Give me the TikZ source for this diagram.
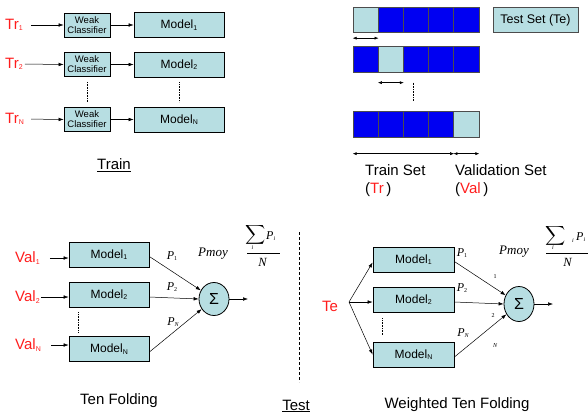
\documentclass[tikz,border=0pt]{standalone}
\usepackage{fontspec}
\setmainfont{Liberation Sans}
\newfontfamily\seriffont{Liberation Serif}
\usetikzlibrary{arrows.meta,shapes.geometric}
\definecolor{boxfill}{RGB}{183,222,226}
\definecolor{cellblue}{RGB}{0,0,242}
\definecolor{labelred}{RGB}{255,28,28}
% small lowered index used in labels
\newcommand\lowsub[1]{\raisebox{-1.3pt}{\fontsize{7}{7}\selectfont #1}}
\newcommand\tinysub[1]{\raisebox{-1.6pt}{\fontsize{6}{6}\selectfont #1}}
\newcommand\plab[1]{{\seriffont\itshape P}\tinysub{\seriffont #1}}
\newcommand\bigsum{\scalebox{1.4}[1.35]{$\displaystyle\sum$}}
\begin{document}
\begin{tikzpicture}[x=1pt,y=-1pt,
  box/.style={draw=black,fill=boxfill,line width=0.8pt,inner sep=0pt},
  weakbox/.style={box,minimum width=46pt,minimum height=24pt,
    font=\fontsize{9.5}{10}\selectfont,align=center},
  modelbox/.style={box,minimum width=90pt,minimum height=25pt,
    font=\fontsize{12}{14}\selectfont},
  smallmodel/.style={box,minimum width=80pt,minimum height=25pt,
    font=\fontsize{12}{14}\selectfont},
  cell/.style={draw=black!70,line width=0.8pt,minimum width=25.2pt,
    minimum height=25.5pt,inner sep=0pt,fill=cellblue},
  lightcell/.style={cell,fill=boxfill},
  sumnode/.style={ellipse,draw=black,fill=boxfill,line width=0.8pt,
    minimum width=30pt,minimum height=33pt,inner sep=0pt,
    font=\fontsize{16}{16}\selectfont},
  redlabel/.style={text=labelred,font=\fontsize{15}{17}\selectfont,inner sep=0pt},
  biglabel/.style={font=\fontsize{15}{17}\selectfont,inner sep=0pt},
  plabel/.style={font=\fontsize{12}{12}\selectfont,inner sep=0pt},
  mathit/.style={font=\fontsize{13}{13}\selectfont\seriffont\itshape,inner sep=0pt},
  sumsign/.style={inner sep=0pt},
  tinyidx/.style={font=\fontsize{6}{6}\selectfont\seriffont,inner sep=0pt},
  arr/.style={-{Latex[length=5pt,width=3.6pt]},line width=0.5pt},
  dimarr/.style={{Latex[length=4pt,width=3pt]}-{Latex[length=4pt,width=3pt]},line width=0.5pt},
  vdots/.style={densely dotted,line width=0.6pt},
]
\useasboundingbox (0,0) rectangle (588,418);
\clip (0,0) rectangle (588,418);

% ---------- training ----------
\node[redlabel,anchor=west] (tr1) at (5,25) {Tr\lowsub{1}};
\node[redlabel,anchor=west] (tr2) at (5,64) {Tr\lowsub{2}};
\node[redlabel,anchor=west] (trn) at (5,119) {Tr\lowsub{N}};
\node[weakbox] (wc1) at (87,25) {Weak\\Classifier};
\node[weakbox] (wc2) at (87,64.5) {Weak\\Classifier};
\node[weakbox] (wcn) at (87,119.5) {Weak\\Classifier};
\node[modelbox] (tm1) at (179,25) {Model\lowsub{1}};
\node[modelbox] (tm2) at (179,64.5) {Model\lowsub{2}};
\node[modelbox] (tmn) at (179,119.5) {Model\lowsub{N}};
\draw[arr,shorten <=8pt] (tr1.east) -- (wc1.west);
\draw[arr,shorten <=2pt] (tr2.east) -- (wc2.west);
\draw[arr,shorten <=7pt] (trn.east) -- (wcn.west);
\draw[arr] (wc1) -- (tm1);
\draw[arr] (wc2) -- (tm2);
\draw[arr] (wcn) -- (tmn);
\draw[vdots] ([yshift=-5pt]wc2.south) -- ([yshift=5pt]wcn.north);
\draw[vdots] ([yshift=-5pt]tm2.south) -- ([yshift=5pt]tmn.north);
\node[biglabel] (train) at (114,165) {\underline{Train}};

% ---------- folds ----------
\foreach \r/\y/\l in {a/20/1,b/59.5/2,c/124.5/5}{
  \foreach \k in {1,...,5}{
    \ifnum\k=\l
      \node[lightcell] (\r\k) at (353+25.2*\k-12.6,\y) {};
    \else
      \node[cell] (\r\k) at (353+25.2*\k-12.6,\y) {};
    \fi
  }
}
\node[box,minimum width=85pt,minimum height=25pt,draw=black!70,
  font=\fontsize{12.5}{14}\selectfont] (testset) at (535.5,20) {Test Set (Te)};
\draw[dimarr] ([yshift=-5pt]a1.south west) -- ([yshift=-5pt]a1.south east);
\draw[dimarr] ([yshift=-10pt]b2.south west) -- ([yshift=-10pt]b2.south east);
\draw[vdots] ([xshift=10pt,yshift=-10pt]b3.south west) -- ([xshift=10pt,yshift=10pt]c3.north west);
\draw[dimarr] ([yshift=-16pt]c1.south west) -- ([yshift=-16pt]c4.south east);
\draw[dimarr] ([yshift=-16pt]c5.south west) -- ([yshift=-16pt]c5.south east);
\node[biglabel,anchor=west] (trainset) at (365,170) {Train Set};
\node[biglabel,anchor=west] (trtag) at (365,190) {(\textcolor{labelred}{Tr}\,)};
\node[biglabel,anchor=west] (valset) at (455,170) {Validation Set};
\node[biglabel,anchor=west] (valtag) at (455,190) {(\textcolor{labelred}{Val}\,)};

% ---------- ten folding ----------
\node[redlabel,anchor=west] (v1) at (15,258) {Val\lowsub{1}};
\node[redlabel,anchor=west] (v2) at (15,297) {Val\lowsub{2}};
\node[redlabel,anchor=west] (vn) at (15,345) {Val\lowsub{N}};
\node[smallmodel] (lm1) at (109,254.5) {Model\lowsub{1}};
\node[smallmodel] (lm2) at (109,294.5) {Model\lowsub{2}};
\node[smallmodel] (lmn) at (109,349) {Model\lowsub{N}};
\draw[arr,shorten <=10pt] (v1.east) -- (v1.east -| lm1.west);
\draw[arr,shorten <=1pt] (v2.east) -- (v2.east -| lm2.west);
\draw[arr,shorten <=10pt] (vn.east) -- (vn.east -| lmn.west);
\draw[vdots] ([xshift=10pt,yshift=-5pt]lm2.south west) -- ([xshift=10pt,yshift=4pt]lmn.north west);
\node[sumnode] (sumL) at (214,299) {Σ};
\draw[arr] ([yshift=-2pt]lm1.east) -- (sumL);
\draw[arr] ([yshift=-2.5pt]lm2.east) -- (sumL.west);
\draw[arr] ([yshift=-3pt]lmn.east) -- (sumL);
\coordinate (outL) at (248,299);
\draw[arr] (sumL.east) -- (outL);
\node[plabel] (pl1) at (172,256) {\plab{1}};
\node[plabel] (pl2) at (172,287) {\plab{2}};
\node[plabel] (pln) at (173,322) {\plab{\itshape N}};
\node[mathit] (pmoyL) at (213,254) {Pmoy};
% mean formula
\node[sumsign] (sigL) at (255.5,235) {\bigsum};
\node[tinyidx] (siL) at (252.5,247.5) {\itshape i};
\node[plabel,anchor=west] (piL) at (266,236) {\plab{\itshape i}};
\node[mathit,font=\fontsize{12.5}{12.5}\selectfont\seriffont\itshape] (nL) at (262.5,262) {N};
\draw[line width=0.6pt] (247,253) -- (280,253);

% ---------- separator ----------
\coordinate (septop) at (299,232);
\coordinate (sepbot) at (299,382);
\draw[dashed,dash pattern=on 3pt off 2pt,line width=0.8pt] (septop) -- (sepbot);
\node[biglabel] (tenfold) at (119,401) {Ten Folding};
\node[biglabel] (testlab) at (296,406) {\underline{Test}};

% ---------- weighted ten folding ----------
\node[redlabel] (te) at (330,306) {Te};
\coordinate (fan) at (349,302);
\node[smallmodel,minimum width=81pt] (rm1) at (413.5,259.5) {Model\lowsub{1}};
\node[smallmodel,minimum width=81pt] (rm2) at (413.5,299.5) {Model\lowsub{2}};
\node[smallmodel,minimum width=81pt] (rmn) at (413.5,354.5) {Model\lowsub{N}};
\draw[arr] (fan) -- ([yshift=-3pt]rm1.west);
\draw[arr] (fan) -- (fan -| rm2.west);
\draw[arr] (fan) -- (rmn.west);
\draw[vdots] ([xshift=10pt,yshift=-6pt]rm2.south west) -- ([xshift=10pt,yshift=6pt]rmn.north west);
\node[sumnode,minimum height=35pt] (sumR) at (519,304) {Σ};
\draw[arr] ([yshift=-2pt]rm1.east) -- (sumR);
\draw[arr] ([yshift=-2.5pt]rm2.east) -- (sumR.west);
\draw[arr] ([yshift=-2.5pt]rmn.east) -- (sumR);
\coordinate (outR) at (553,304);
\draw[arr] (sumR.east) -- (outR);
\node[plabel] (pr1) at (462,253) {\plab{1}};
\node[plabel] (pr2) at (462,288) {\plab{2}};
\node[plabel] (prn) at (463,333) {\plab{\itshape N}};
\node[tinyidx] (w1) at (495,277) {1};
\node[tinyidx] (w2) at (493,316) {2};
\node[tinyidx] (wn) at (495,346) {\itshape N};
\node[mathit] (pmoyR) at (514,252) {Pmoy};
% weighted mean formula
\node[sumsign] (sigR) at (555.5,236) {\bigsum};
\node[tinyidx] (siR) at (553,248) {\itshape i};
\node[tinyidx] (aiR) at (573,241) {\itshape i};
\node[plabel,anchor=west] (piR) at (576,237) {\plab{\itshape i}};
\node[mathit,font=\fontsize{12.5}{12.5}\selectfont\seriffont\itshape] (nR) at (567.5,262) {N};
\draw[line width=0.6pt] (546,253) -- (592,253);
\node[biglabel] (wtenfold) at (457,405) {Weighted Ten Folding};
\end{tikzpicture}
\end{document}
